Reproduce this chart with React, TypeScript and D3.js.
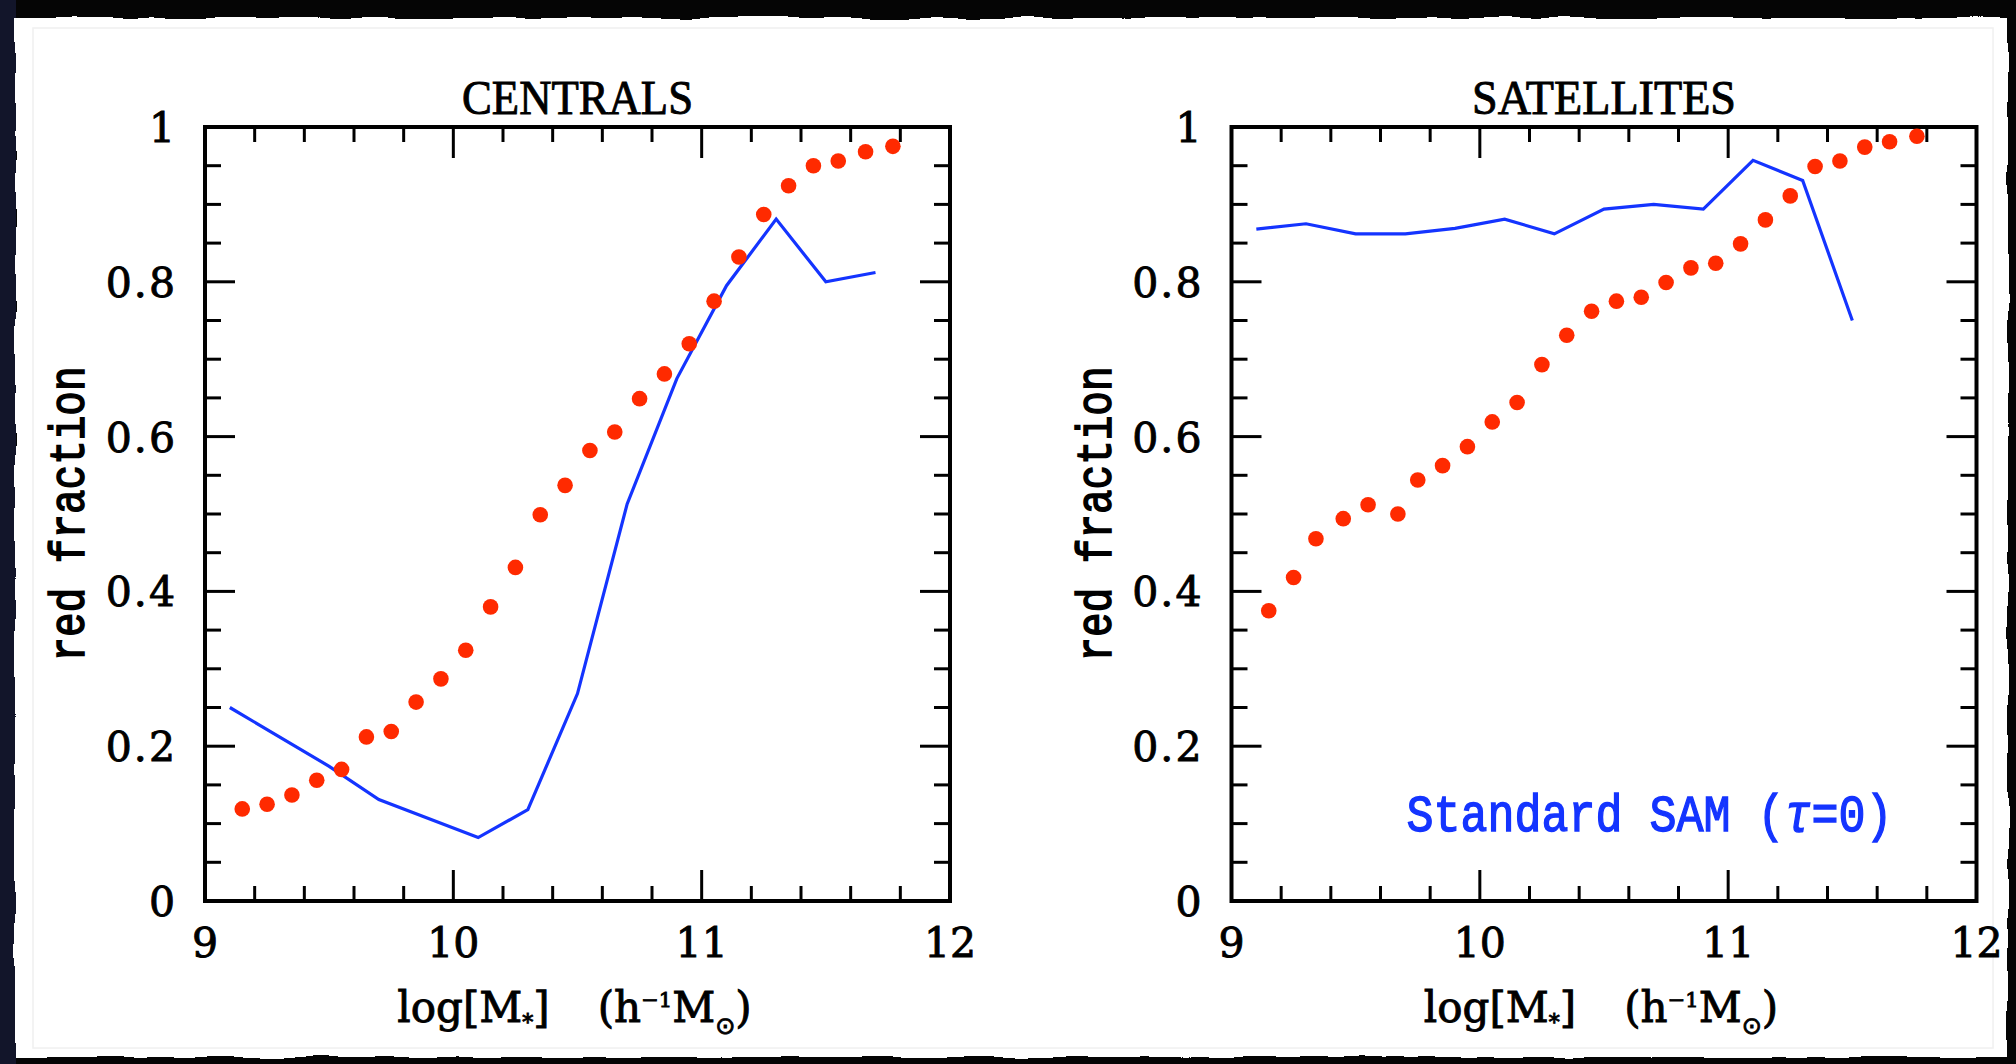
import React from 'react'
import * as d3 from 'd3'

// red fraction vs stellar mass
const centralsRedMass = [9.15, 9.25, 9.35, 9.45, 9.55, 9.65, 9.75, 9.85, 9.95, 10.05, 10.15, 10.25, 10.35, 10.45, 10.55, 10.65, 10.75, 10.85, 10.95, 11.05, 11.15, 11.25, 11.35, 11.45, 11.55, 11.66, 11.77]
const centralsRedFrac = [0.119, 0.125, 0.137, 0.156, 0.17, 0.212, 0.219, 0.257, 0.287, 0.324, 0.38, 0.431, 0.499, 0.537, 0.582, 0.606, 0.649, 0.681, 0.72, 0.775, 0.832, 0.887, 0.924, 0.95, 0.956, 0.968, 0.975]
const centralsSamMass = [9.1, 9.5, 9.7, 10.1, 10.3, 10.5, 10.7, 10.9, 11.1, 11.3, 11.5, 11.7]
const centralsSamFrac = [0.25, 0.174, 0.131, 0.082, 0.118, 0.268, 0.513, 0.675, 0.795, 0.881, 0.8, 0.812]

const satellitesRedMass = [9.15, 9.25, 9.34, 9.45, 9.55, 9.67, 9.75, 9.85, 9.95, 10.05, 10.15, 10.25, 10.35, 10.45, 10.55, 10.65, 10.75, 10.85, 10.95, 11.05, 11.15, 11.25, 11.35, 11.45, 11.55, 11.65, 11.76]
const satellitesRedFrac = [0.375, 0.418, 0.468, 0.494, 0.512, 0.5, 0.544, 0.5625, 0.587, 0.619, 0.644, 0.693, 0.731, 0.762, 0.775, 0.78, 0.799, 0.818, 0.824, 0.849, 0.88, 0.911, 0.949, 0.956, 0.974, 0.981, 0.988]
const satellitesSamMass = [9.1, 9.3, 9.5, 9.7, 9.9, 10.1, 10.3, 10.5, 10.7, 10.9, 11.1, 11.3, 11.5]
const satellitesSamFrac = [0.868, 0.875, 0.862, 0.862, 0.869, 0.881, 0.862, 0.894, 0.9, 0.894, 0.957, 0.931, 0.75]

const xTickLabels = ['9', '10', '11', '12']
const yTickLabels = ['0', '0.2', '0.4', '0.6', '0.8', '1']

const W = 2016
const H = 1064
const TOP = 127
const BOTTOM = 901
const RED = '#ff2a00'
const BLUE = '#1434ff'
const INK = '#000'

const Panel = ({title, titleLen, x0, x1, redMass, redFrac, samMass, samFrac, legend}) => {
    const x = d3.scaleLinear().domain([9, 12]).range([x0, x1])
    const y = d3.scaleLinear().domain([0, 1]).range([BOTTOM, TOP])

    const majorX = xTickLabels.map(Number)
    const minorX = x.ticks(15).filter(v => !majorX.some(m => Math.abs(m - v) < 1e-6))
    const majorY = yTickLabels.map(Number)
    const minorY = y.ticks(20).filter(v => !majorY.some(m => Math.abs(m - v) < 1e-6))

    const line = d3.line().x(d => x(d[0])).y(d => y(d[1]))
    const samPts = samMass.map((m, i) => [m, samFrac[i]])

    const cx = (x0 + x1) / 2
    const tick = {stroke: INK, strokeWidth: 3}
    // a thin outline thickens the glyphs a bit, like the scanned original
    const heavy = {stroke: INK, strokeWidth: 0.9}

    return (
        <g>
            <text x={cx} y={114} textAnchor="middle" fontFamily="Liberation Serif" fontSize={48}
                  textLength={titleLen} lengthAdjust="spacingAndGlyphs" {...heavy}>{title}</text>

            {/* ticks on all four sides */}
            {majorX.map(v => (
                <g key={'mx' + v}>
                    <line x1={x(v)} x2={x(v)} y1={BOTTOM} y2={BOTTOM - 31} {...tick} />
                    <line x1={x(v)} x2={x(v)} y1={TOP} y2={TOP + 31} {...tick} />
                </g>
            ))}
            {minorX.map(v => (
                <g key={'nx' + v}>
                    <line x1={x(v)} x2={x(v)} y1={BOTTOM} y2={BOTTOM - 15} {...tick} />
                    <line x1={x(v)} x2={x(v)} y1={TOP} y2={TOP + 15} {...tick} />
                </g>
            ))}
            {majorY.map(v => (
                <g key={'my' + v}>
                    <line x1={x0} x2={x0 + 30} y1={y(v)} y2={y(v)} {...tick} />
                    <line x1={x1} x2={x1 - 30} y1={y(v)} y2={y(v)} {...tick} />
                </g>
            ))}
            {minorY.map(v => (
                <g key={'ny' + v}>
                    <line x1={x0} x2={x0 + 16} y1={y(v)} y2={y(v)} {...tick} />
                    <line x1={x1} x2={x1 - 16} y1={y(v)} y2={y(v)} {...tick} />
                </g>
            ))}

            <rect x={x0} y={TOP} width={x1 - x0} height={BOTTOM - TOP} fill="none" stroke={INK} strokeWidth={4} />

            {/* tick labels */}
            {xTickLabels.map(t => (
                <text key={'xl' + t} x={x(+t)} y={957} textAnchor="middle" fontFamily="DejaVu Serif"
                      fontSize={41} {...heavy}>{t}</text>
            ))}
            {yTickLabels.map(t => (
                <text key={'yl' + t} x={x0 - 28} y={y(+t) + 15} textAnchor="end" fontFamily="DejaVu Serif"
                      fontSize={41} letterSpacing={2} {...heavy}>{t}</text>
            ))}

            {/* axis titles */}
            <text transform={`translate(${x0 - 121},${(TOP + BOTTOM) / 2}) rotate(-90) scale(1,1.2)`}
                  textAnchor="middle" fontFamily="Liberation Mono" fontSize={41} stroke={INK} strokeWidth={1.3}>red fraction</text>

            <text x={cx - 3} y={1022} textAnchor="middle" fontFamily="DejaVu Serif" fontSize={42} {...heavy}>
                log[M<tspan fontSize={22} dy={8}>*</tspan><tspan dy={-8}>]</tspan>
                <tspan dx={48}>(h</tspan><tspan fontSize={21} dy={-15}>−1</tspan>
                <tspan dy={15}>M</tspan><tspan fontFamily="DejaVu Sans" fontSize={24} dy={12}>⊙</tspan>
                <tspan dy={-12}>)</tspan>
            </text>

            {/* model line and data points */}
            <path d={line(samPts)} fill="none" stroke={BLUE} strokeWidth={3.2} strokeLinejoin="miter" />
            {redMass.map((m, i) => (
                <circle key={'r' + i} cx={x(m)} cy={y(redFrac[i])} r={7.8} fill={RED} />
            ))}

            {legend && (
                <text transform={`translate(${x0 + 175},831) scale(1,1.15)`} fontFamily="Liberation Mono"
                      fontSize={45} fill={BLUE} stroke={BLUE} strokeWidth={1.2}>
                    Standard SAM (<tspan fontStyle="italic">τ</tspan>=0)
                </text>
            )}
        </g>
    )
}

const App = () => {
    return (
        <svg width={W} height={H} viewBox={`0 0 ${W} ${H}`}
             style={{position: 'fixed', left: 0, top: 0, display: 'block'}}>
            <defs>
                <filter id="torn" x="-2%" y="-2%" width="104%" height="104%">
                    <feTurbulence type="fractalNoise" baseFrequency="0.02 0.02" numOctaves={2} seed={4} />
                    <feDisplacementMap in="SourceGraphic" scale={7} xChannelSelector="R" yChannelSelector="G" />
                </filter>
            </defs>
            <rect width={W} height={H} fill="#050505" />
            <rect x={0} y={0} width={16} height={H} fill="#12152a" />
            <rect x={15} y={18} width={1993} height={1039} fill="#fff" filter="url(#torn)" />
            <rect x={33} y={28} width={1960} height={1020} fill="none" stroke="#f0f0f0" strokeWidth={1.5} />

            <Panel title="CENTRALS" titleLen={231} x0={205} x1={950}
                   redMass={centralsRedMass} redFrac={centralsRedFrac}
                   samMass={centralsSamMass} samFrac={centralsSamFrac} />
            <Panel title="SATELLITES" titleLen={264} x0={1231.5} x1={1976.5}
                   redMass={satellitesRedMass} redFrac={satellitesRedFrac}
                   samMass={satellitesSamMass} samFrac={satellitesSamFrac} legend />
        </svg>
    )
}

export default App
